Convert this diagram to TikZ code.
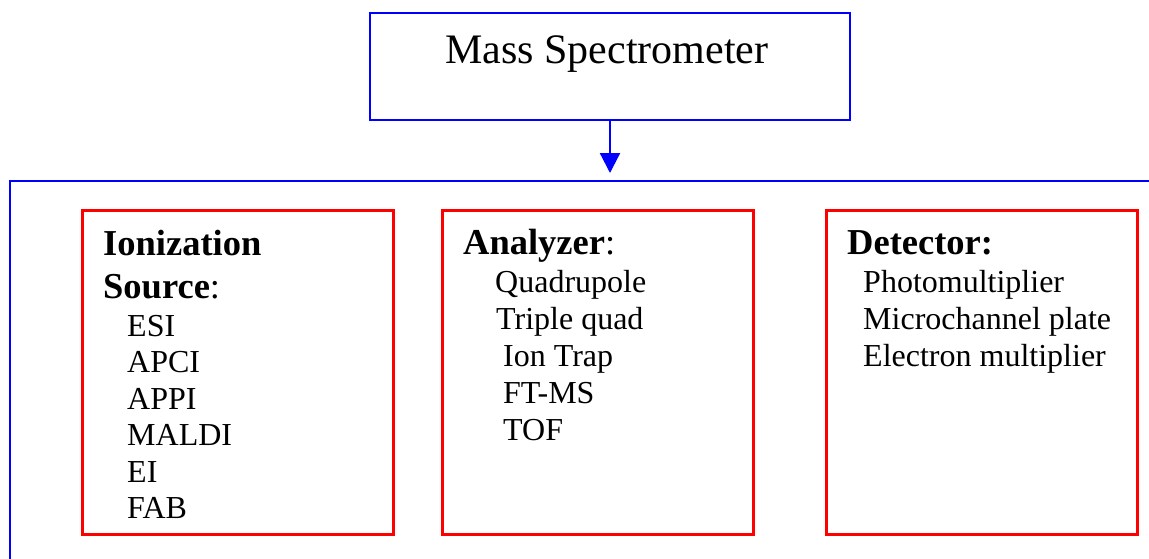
\documentclass[tikz,border=0pt]{standalone}
\usepackage{fontspec}
\setmainfont{Liberation Serif}
\usetikzlibrary{arrows.meta}
\tikzset{
  bluebox/.style={draw=blue, line width=2.2pt, inner sep=0pt},
  redbox/.style={draw=red, line width=3pt, inner sep=0pt, minimum width=311pt, minimum height=324pt},
  head/.style={anchor=base west, inner sep=0pt, font=\fontsize{36.5}{42}\selectfont},
  item/.style={anchor=base west, inner sep=0pt, font=\fontsize{32}{37}\selectfont},
}
\begin{document}
\begin{tikzpicture}[x=1pt, y=-1pt]
\useasboundingbox (0,0) rectangle (1149,558);

% top block
\node[bluebox, minimum width=480pt, minimum height=107pt] (ms) at (610,66.5) {};
\node[anchor=base, inner sep=0pt, font=\fontsize{42}{48}\selectfont] (mstext) at (607,63) {Mass Spectrometer};

% enclosing frame, open towards the right and the bottom
\coordinate (fbl) at (10,560);
\coordinate (ftl) at (10,181);
\coordinate (ftr) at (1151,181);
\draw[blue, line width=2.2pt] (fbl) -- (ftl) -- (ftr);

% arrow into the frame
\coordinate (arrowend) at (610,173);
\draw[blue, line width=2.2pt, -{Triangle[width=20pt, length=20pt]}] (ms.south) -- (arrowend);

% the three component boxes
\node[redbox] (ion) at (237.5,372) {};
\node[redbox] (ana) at (597.5,372) {};
\node[redbox] (det) at (981.5,372) {};

% ionization source
\node[head] (ionh1) at (103,255) {\bfseries Ionization};
\node[head] (ionh2) at (103,298) {\textbf{Source}:};
\node[item] (esi) at (127,336) {ESI};
\node[item] (apci) at (127,372.5) {APCI};
\node[item] (appi) at (127,409) {APPI};
\node[item] (maldi) at (127,445.5) {MALDI};
\node[item] (ei) at (127,482) {EI};
\node[item] (fab) at (127,518.5) {FAB};

% analyzer
\node[head] (anah) at (463,254) {\textbf{Analyzer}:};
\node[item] (quad) at (495,292) {Quadrupole};
\node[item] (triple) at (496,329) {Triple quad};
\node[item] (trap) at (503,366) {Ion Trap};
\node[item] (ftms) at (503,403) {FT-MS};
\node[item] (tof) at (503,440) {TOF};

% detector
\node[head] (deth) at (847,254) {\bfseries Detector:};
\node[item] (pmt) at (863,292) {Photomultiplier};
\node[item] (mcp) at (863,329) {Microchannel plate};
\node[item] (em) at (863,366) {Electron multiplier};
\end{tikzpicture}
\end{document}
